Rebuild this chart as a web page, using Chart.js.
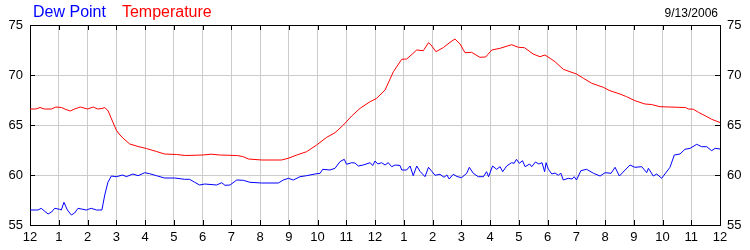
<!DOCTYPE html>
<html>
<head>
<meta charset="utf-8">
<script src="https://cdn.jsdelivr.net/npm/chart.js@4"></script>
<style>
  html, body { margin: 0; padding: 0; background: #fff; }
  #wrap { width: 750px; height: 250px; }
</style>
</head>
<body>
<div id="wrap"><canvas id="chart" width="750" height="250"></canvas></div>
<script>
// hours after midnight
const tempHours = [0, 0.2, 0.35, 0.5, 0.75, 0.9, 1.1, 1.25, 1.4, 1.55, 1.75, 2.0, 2.2, 2.35, 2.5, 2.6, 2.72, 2.85, 3.0, 3.1,
  3.23, 3.47, 3.76, 4.05, 4.4, 4.68, 5.1, 5.4, 6.0, 6.3, 6.6, 7.19, 7.4, 7.6, 8.06, 8.75, 8.98, 9.28, 9.62, 9.97,
  10.32, 10.61, 10.9, 11.19, 11.48, 11.83, 12.06, 12.35, 12.64, 12.93, 13.1, 13.3, 13.45, 13.68, 13.86, 13.95, 14.12, 14.38, 14.61, 14.78,
  14.96, 15.13, 15.36, 15.65, 15.85, 16.06, 16.35, 16.75, 16.99, 17.2, 17.5, 17.74, 17.91, 18.09, 18.26, 18.55, 18.78, 19.01, 19.25, 19.54,
  19.94, 20.17, 20.52, 20.75, 21.04, 21.39, 21.62, 21.91, 22.55, 22.8, 22.9, 23.07, 23.25, 23.48, 23.71, 24.0];
const tempValues = [66.6, 66.6, 66.75, 66.6, 66.6, 66.8, 66.75, 66.55, 66.4, 66.6, 66.8, 66.6, 66.8, 66.6, 66.65, 66.75, 66.4, 65.5, 64.5, 64.1,
  63.7, 63.1, 62.85, 62.65, 62.35, 62.1, 62.05, 61.95, 62.0, 62.08, 62.0, 61.95, 61.85, 61.6, 61.5, 61.5, 61.67, 62.0, 62.33, 63.0,
  63.77, 64.23, 65.0, 65.9, 66.67, 67.33, 67.67, 68.5, 70.33, 71.57, 71.6, 72.1, 72.5, 72.43, 73.23, 73.0, 72.33, 72.75, 73.27, 73.6,
  73.1, 72.23, 72.27, 71.77, 71.8, 72.5, 72.67, 73.03, 72.77, 72.73, 72.1, 71.83, 72.0, 71.67, 71.33, 70.57, 70.33, 70.1, 69.67, 69.17,
  68.77, 68.43, 68.1, 67.83, 67.43, 67.1, 67.05, 66.83, 66.77, 66.75, 66.6, 66.58, 66.27, 65.93, 65.57, 65.25];

const dewHours = [0, 0.28, 0.39, 0.5, 0.63, 0.75, 0.86, 1.03, 1.09, 1.18, 1.3, 1.44, 1.55, 1.67, 1.96, 2.13, 2.31, 2.5, 2.6, 2.71,
  2.83, 3.0, 3.23, 3.35, 3.58, 3.76, 3.99, 4.16, 4.4, 4.68, 5.03, 5.38, 5.55, 5.73, 5.9, 6.08, 6.49, 6.67, 6.78, 6.96,
  7.19, 7.42, 7.65, 8.06, 8.64, 8.81, 8.99, 9.16, 9.39, 9.62, 9.91, 10.09, 10.18, 10.43, 10.61, 10.78, 10.93, 11.01, 11.19, 11.3,
  11.42, 11.59, 11.83, 11.92, 12.0, 12.1, 12.23, 12.35, 12.46, 12.58, 12.7, 12.87, 12.93, 13.1, 13.22, 13.33, 13.45, 13.57, 13.74, 13.86,
  13.98, 14.09, 14.26, 14.4, 14.5, 14.58, 14.72, 14.85, 15.01, 15.19, 15.28, 15.42, 15.59, 15.77, 15.88, 15.95, 16.09, 16.23, 16.35, 16.44,
  16.58, 16.75, 16.84, 16.92, 17.02, 17.13, 17.22, 17.38, 17.45, 17.58, 17.7, 17.81, 17.9, 17.95, 18.03, 18.15, 18.26, 18.38, 18.46, 18.55,
  18.72, 18.85, 18.93, 19.01, 19.16, 19.36, 19.6, 19.83, 20.0, 20.21, 20.35, 20.5, 20.7, 20.87, 21.04, 21.28, 21.45, 21.51, 21.68, 21.8,
  21.97, 22.26, 22.41, 22.61, 22.78, 22.96, 23.19, 23.36, 23.54, 23.71, 23.83, 24.0];
const dewValues = [56.5, 56.5, 56.67, 56.4, 56.1, 56.3, 56.67, 56.57, 56.5, 57.27, 56.5, 56.0, 56.2, 56.67, 56.5, 56.67, 56.5, 56.5, 58.0, 59.27,
  59.9, 59.83, 60.0, 59.83, 60.1, 59.93, 60.23, 60.13, 59.93, 59.7, 59.7, 59.57, 59.57, 59.27, 59.0, 59.1, 59.0, 59.23, 58.97, 59.0,
  59.5, 59.47, 59.27, 59.2, 59.2, 59.5, 59.67, 59.5, 59.83, 59.93, 60.1, 60.17, 60.57, 60.5, 60.67, 61.33, 61.57, 61.07, 61.23, 61.2,
  60.9, 61.0, 61.23, 60.95, 61.4, 61.1, 61.23, 61.0, 61.23, 60.83, 61.0, 60.95, 60.5, 60.5, 60.9, 59.93, 60.9, 60.35, 59.83, 60.77,
  60.35, 59.97, 60.07, 59.77, 60.0, 59.6, 60.07, 59.85, 59.73, 60.17, 60.77, 60.17, 59.83, 59.83, 60.33, 59.83, 60.9, 60.57, 60.83, 60.33,
  60.9, 61.23, 61.17, 61.57, 61.17, 61.43, 60.83, 61.1, 60.83, 61.3, 61.1, 61.23, 60.33, 61.23, 60.57, 60.1, 60.2, 59.97, 60.2, 59.5,
  59.67, 59.6, 59.83, 59.5, 60.43, 60.57, 60.17, 59.9, 60.23, 60.17, 60.77, 59.9, 60.5, 61.0, 60.77, 60.83, 60.23, 60.67, 59.9, 60.1,
  59.67, 60.77, 62.0, 62.1, 62.57, 62.67, 63.07, 62.83, 62.83, 62.43, 62.67, 62.6];

const seriesNames = ['Dew Point', 'Temperature'];
const seriesColors = ['#0000ff', '#ff0000'];
const dateLabel = '9/13/2006';
const yTicks = [55, 60, 65, 70, 75];

const FONT = 'Liberation Sans, Arial, sans-serif';

function pairs(xs, ys) {
  return xs.map((x, i) => ({ x: x, y: ys[i] }));
}

function hourLabel(v) {
  const h = Math.round(v) % 12;
  return h === 0 ? '12' : String(h);
}

// small inward tick marks + text header
const framePlugin = {
  id: 'frame',
  afterDraw(chart) {
    const ctx = chart.ctx;
    const a = chart.chartArea;
    const xs = chart.scales.x, ys = chart.scales.y;
    ctx.save();
    ctx.strokeStyle = '#000';
    ctx.lineWidth = 1;
    ctx.beginPath();
    for (let h = 1; h < 24; h++) {
      const px = Math.round(xs.getPixelForValue(h)) + 0.5;
      ctx.moveTo(px, a.top); ctx.lineTo(px, a.top + 5);
      ctx.moveTo(px, a.bottom); ctx.lineTo(px, a.bottom - 5);
    }
    yTicks.slice(1, -1).forEach(v => {
      const py = Math.round(ys.getPixelForValue(v)) + 0.5;
      ctx.moveTo(a.left, py); ctx.lineTo(a.left + 5, py);
      ctx.moveTo(a.right, py); ctx.lineTo(a.right - 5, py);
    });
    ctx.stroke();

    // header: series names and date
    ctx.textBaseline = 'alphabetic';
    ctx.font = '16px ' + FONT;
    let cx = a.left + 3;
    chart.data.datasets.forEach(ds => {
      ctx.fillStyle = ds.borderColor;
      ctx.textAlign = 'left';
      ctx.fillText(ds.label, cx, 17);
      cx += ctx.measureText(ds.label).width + 16;
    });
    ctx.font = '12px ' + FONT;
    ctx.fillStyle = '#000';
    ctx.textAlign = 'right';
    ctx.fillText(dateLabel, a.right - 2, 17);
    ctx.restore();
  }
};

new Chart(document.getElementById('chart').getContext('2d'), {
  type: 'line',
  data: {
    datasets: [{
      label: seriesNames[0],
      data: pairs(dewHours, dewValues),
      borderColor: seriesColors[0],
      borderWidth: 1,
      pointRadius: 0,
      tension: 0
    }, {
      label: seriesNames[1],
      data: pairs(tempHours, tempValues),
      borderColor: seriesColors[1],
      borderWidth: 1,
      pointRadius: 0,
      tension: 0
    }]
  },
  options: {
    responsive: false,
    animation: false,
    layout: { padding: 0 },
    plugins: {
      legend: { display: false },
      tooltip: { enabled: false }
    },
    scales: {
      x: {
        type: 'linear',
        position: 'bottom',
        min: 0,
        max: 24,
        afterFit: s => { s.height = 25; },
        afterBuildTicks: s => { s.ticks = Array.from({ length: 25 }, (_, i) => ({ value: i })); },
        grid: { color: '#cccccc', drawTicks: false },
        border: { display: true, color: '#000' },
        ticks: {
          autoSkip: false,
          maxRotation: 0,
          padding: 5,
          color: '#000',
          font: { family: FONT, size: 13 },
          callback: hourLabel
        }
      },
      xTop: {
        type: 'linear',
        position: 'top',
        min: 0,
        max: 24,
        afterFit: s => { s.height = 25; },
        grid: { display: false, drawTicks: false },
        border: { display: true, color: '#000' },
        ticks: { display: false }
      },
      y: {
        position: 'left',
        min: 55,
        max: 75,
        afterFit: s => { s.width = 30; },
        afterBuildTicks: s => { s.ticks = yTicks.map(v => ({ value: v })); },
        grid: { color: '#cccccc', drawTicks: false },
        border: { display: true, color: '#000' },
        ticks: { padding: 7, color: '#000', font: { family: FONT, size: 13 } }
      },
      yRight: {
        position: 'right',
        min: 55,
        max: 75,
        afterFit: s => { s.width = 30; },
        afterBuildTicks: s => { s.ticks = yTicks.map(v => ({ value: v })); },
        grid: { drawOnChartArea: false, drawTicks: false },
        border: { display: true, color: '#000' },
        ticks: { padding: 7, color: '#000', font: { family: FONT, size: 13 } }
      }
    }
  },
  plugins: [framePlugin]
});
</script>
</body>
</html>
